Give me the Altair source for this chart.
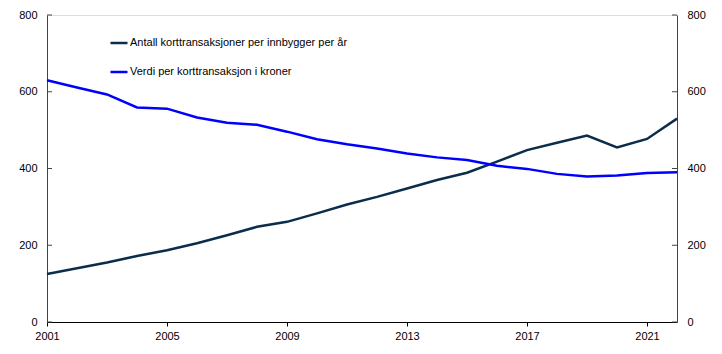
import altair as alt
import pandas as pd

years = list(range(2001, 2023))
antall = [125, 140, 155, 172, 187, 205, 226, 248, 261, 283, 306, 326, 348, 370,
          389, 418, 448, 467, 486, 455, 477, 530]
verdi = [630, 611, 593, 559, 556, 533, 519, 514, 496, 476, 463, 452, 439, 429,
         422, 407, 399, 386, 379, 382, 388, 390]
series_names = ["Antall korttransaksjoner per innbygger per år",
                "Verdi per korttransaksjon i kroner"]
colors = ["#0a2d4c", "#0000ff"]
x_ticks = [2001, 2005, 2009, 2013, 2017, 2021]
y_ticks = [0, 200, 400, 600, 800]

rows = []
for y, a, v in zip(years, antall, verdi):
    rows.append({"year": y, "value": a, "series": series_names[0]})
    rows.append({"year": y, "value": v, "series": series_names[1]})
df = pd.DataFrame(rows)
ticks_df = pd.DataFrame({"v": y_ticks})

W, H = 630, 307
FONT = "Liberation Sans"

xscale = alt.Scale(domain=[2001, 2022], nice=False, zero=False)
yscale = alt.Scale(domain=[0, 800], nice=False)

x_enc = alt.X("year:Q", scale=xscale, title=None,
              axis=alt.Axis(values=x_ticks, format="d", tickSize=4, labelPadding=4,
                            labelFlush=False, labelFontSize=11, grid=False,
                            domainColor="#000", tickColor="#000", labelColor="#000",
                            labelFont=FONT))

lines = alt.Chart(df).mark_line(strokeWidth=2.5).encode(
    x=x_enc,
    y=alt.Y("value:Q", scale=yscale, title=None,
            axis=alt.Axis(values=y_ticks, ticks=False, labelPadding=10, grid=False,
                          labelFlush=False, labelFontSize=11, domainColor="#444",
                          labelColor="#000", labelFont=FONT)),
    color=alt.Color("series:N", sort=series_names,
                    scale=alt.Scale(domain=series_names, range=colors),
                    legend=alt.Legend(title=None, orient="none", legendX=62, legendY=18,
                                      symbolType="stroke", symbolSize=289,
                                      symbolStrokeWidth=2.5, labelOffset=1,
                                      rowPadding=14, labelFontSize=11, labelLimit=0,
                                      labelFont=FONT, labelColor="#000")),
)

right_axis = alt.Chart(ticks_df).mark_rule(opacity=0).encode(
    y=alt.Y("v:Q", scale=yscale, title=None,
            axis=alt.Axis(orient="right", values=y_ticks, ticks=False, labelPadding=10,
                          labelFlush=False, grid=False, labelFontSize=11,
                          domainColor="#444", labelColor="#000", labelFont=FONT)),
)

left_ticks = alt.Chart(ticks_df).mark_rule(color="#444", strokeWidth=1).encode(
    x=alt.value(0), x2=alt.value(5),
    y=alt.Y("v:Q", scale=yscale, axis=None),
)
right_ticks = alt.Chart(ticks_df).mark_rule(color="#444", strokeWidth=1).encode(
    x=alt.value(W - 5), x2=alt.value(W),
    y=alt.Y("v:Q", scale=yscale, axis=None),
)

chart = alt.layer(lines, right_axis, left_ticks, right_ticks).resolve_axis(
    y="independent"
).properties(
    width=W, height=H,
    autosize=alt.AutoSizeParams(type="none"),
    padding={"left": 47, "top": 15, "right": 45, "bottom": 32},
).configure_view(stroke="#000", strokeWidth=1).configure(font=FONT)

chart.save("out.html", embed_options={"renderer": "svg", "actions": False})
